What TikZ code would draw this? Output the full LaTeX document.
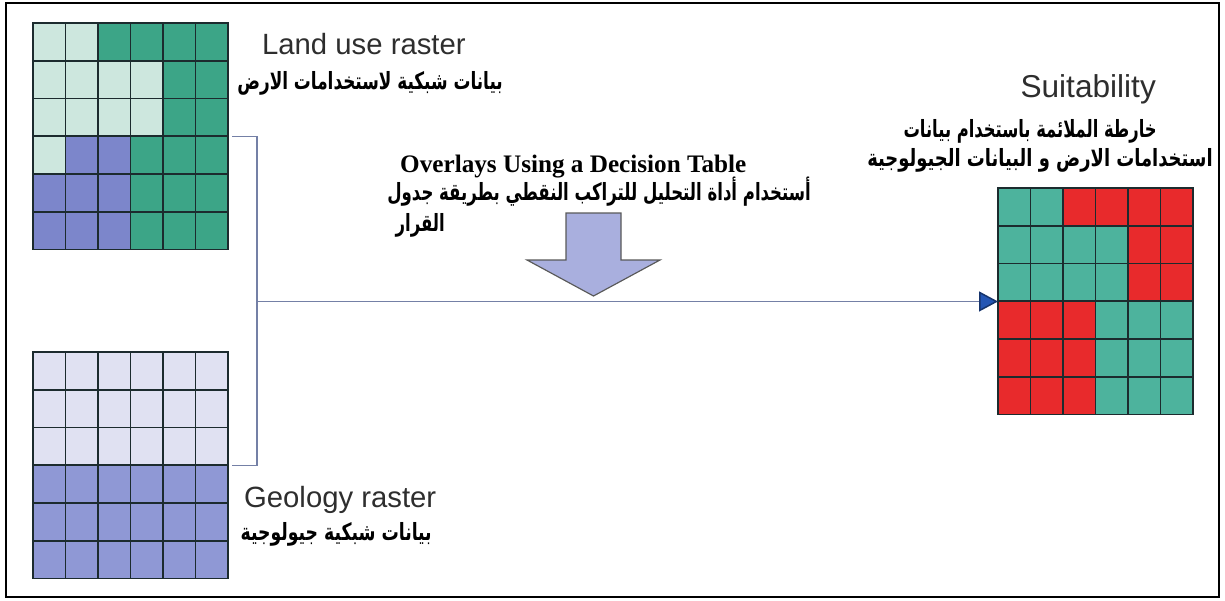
\documentclass[tikz,border=0pt]{standalone}
\usepackage{fontspec}
\usepackage{graphicx}
\setmainfont{Liberation Serif}
\newfontfamily\arialfont{Liberation Sans}
\newfontfamily\arabicfont[Script=Arabic]{DejaVu Sans}
\TeXXeTstate=1
\usetikzlibrary{arrows.meta}

\definecolor{cellL}{HTML}{CDE7DE}
\definecolor{cellT}{HTML}{3CA587}
\definecolor{cellB}{HTML}{7C86CB}
\definecolor{cellG}{HTML}{E0E1F2}
\definecolor{cellP}{HTML}{8F98D5}
\definecolor{cellS}{HTML}{4DB39D}
\definecolor{cellR}{HTML}{E82A2C}
\definecolor{gridline}{HTML}{1C2B2E}
\definecolor{linkgray}{HTML}{7480A6}
\definecolor{arrowfill}{HTML}{A9AFDE}
\definecolor{tipblue}{HTML}{2456B4}
\definecolor{labelgray}{HTML}{2E2E2E}

\newcommand{\arabline}[2][0.96]{\scalebox{#1}[1.35]{\beginR #2\endR}}

\tikzset{
  cell/.style={draw=gridline, line width=0.55mm},
  rastergrid/.style={inner sep=0pt, minimum width=58.5mm, minimum height=67.95mm, anchor=north west},
  rasterlabel/.style={font=\arialfont\fontsize{25}{30}\selectfont, text=labelgray},
  arabtext/.style={font=\arabicfont\bfseries\fontsize{15}{18}\selectfont, inner sep=0pt},
  link/.style={draw=linkgray, line width=0.45mm},
}

\begin{document}
\begin{tikzpicture}[x=0.3mm, y=-0.3mm]
        \useasboundingbox (0,0) rectangle (1225,601);
        \draw[line width=0.8mm] (6,3) rectangle (1219,597);

        \begin{scope}[shift={(33,23)}]
        \foreach \rowcols [count=\r from 0] in {{L,L,T,T,T,T},{L,L,L,L,T,T},{L,L,L,L,T,T},{L,B,B,T,T,T},{B,B,B,T,T,T},{B,B,B,T,T,T}}
          \foreach \c [count=\k from 0] in \rowcols
            \filldraw[cell, fill=cell\c] (\k*32.5,\r*37.75) rectangle ++(32.5,37.75);
        \node[rastergrid] (landuse) at (0,0) {};
        \end{scope}

        \begin{scope}[shift={(33,352)}]
        \foreach \rowcols [count=\r from 0] in {{G,G,G,G,G,G},{G,G,G,G,G,G},{G,G,G,G,G,G},{P,P,P,P,P,P},{P,P,P,P,P,P},{P,P,P,P,P,P}}
          \foreach \c [count=\k from 0] in \rowcols
            \filldraw[cell, fill=cell\c] (\k*32.5,\r*37.75) rectangle ++(32.5,37.75);
        \node[rastergrid] (geology) at (0,0) {};
        \end{scope}

        \begin{scope}[shift={(998,188)}]
        \foreach \rowcols [count=\r from 0] in {{S,S,R,R,R,R},{S,S,S,S,R,R},{S,S,S,S,R,R},{R,R,R,S,S,S},{R,R,R,S,S,S},{R,R,R,S,S,S}}
          \foreach \c [count=\k from 0] in \rowcols
            \filldraw[cell, fill=cell\c] (\k*32.5,\r*37.75) rectangle ++(32.5,37.75);
        \node[rastergrid] (suitability) at (0,0) {};
        \end{scope}

        \node[rasterlabel, anchor=base west] (landtitle) at (258,55) {Land use raster};
        \node[arabtext, anchor=east] (landarabic) at (503,83) {\arabline{بيانات شبكية لاستخدامات الارض}};

        \node[rasterlabel, anchor=base west] (geotitle) at (240,507) {Geology raster};
        \node[arabtext, anchor=east] (geoarabic) at (432,534) {\arabline[0.98]{بيانات شبكية جيولوجية}};

        \node[rasterlabel, font=\arialfont\fontsize{27}{32}\selectfont, anchor=base east] (suittitle) at (1160,98) {Suitability};
        \node[arabtext, anchor=east] (suitarabicA) at (1157,131) {\arabline[0.93]{خارطة الملائمة باستخدام بيانات}};
        \node[arabtext, anchor=east] (suitarabicB) at (1213,160) {\arabline[1.02]{استخدامات الارض و البيانات الجيولوجية}};

        \node[font=\bfseries\fontsize{21.5}{26}\selectfont, anchor=base west, inner sep=0pt] (overlaytitle) at (400,173) {Overlays Using a Decision Table};
        \node[arabtext, anchor=east] (overlayarabicA) at (811,192) {\arabline[0.94]{أستخدام أداة التحليل للتراكب النقطي بطريقة جدول}};
        \node[arabtext, anchor=east] (overlayarabicB) at (445,225) {\arabline[0.94]{القرار}};

        \draw[line width=0.35mm, draw=gray!70!black, fill=arrowfill] (566,213) -- (621,213) -- (621,260) -- (660,260) -- (593.5,296) -- (527,260) -- (566,260) -- cycle;

        \coordinate (bendx) at (257,0);
        \coordinate (join) at (bendx |- suitability.west);
        \draw[link] ([xshift=1.2mm]landuse.east) -| (join) |- ([xshift=1.2mm]geology.east);
        \draw[link, -{Triangle[length=5.7mm, width=6mm, fill=tipblue, color=tipblue!60!black]}] (join) -- (suitability.west);

\end{tikzpicture}
\end{document}
